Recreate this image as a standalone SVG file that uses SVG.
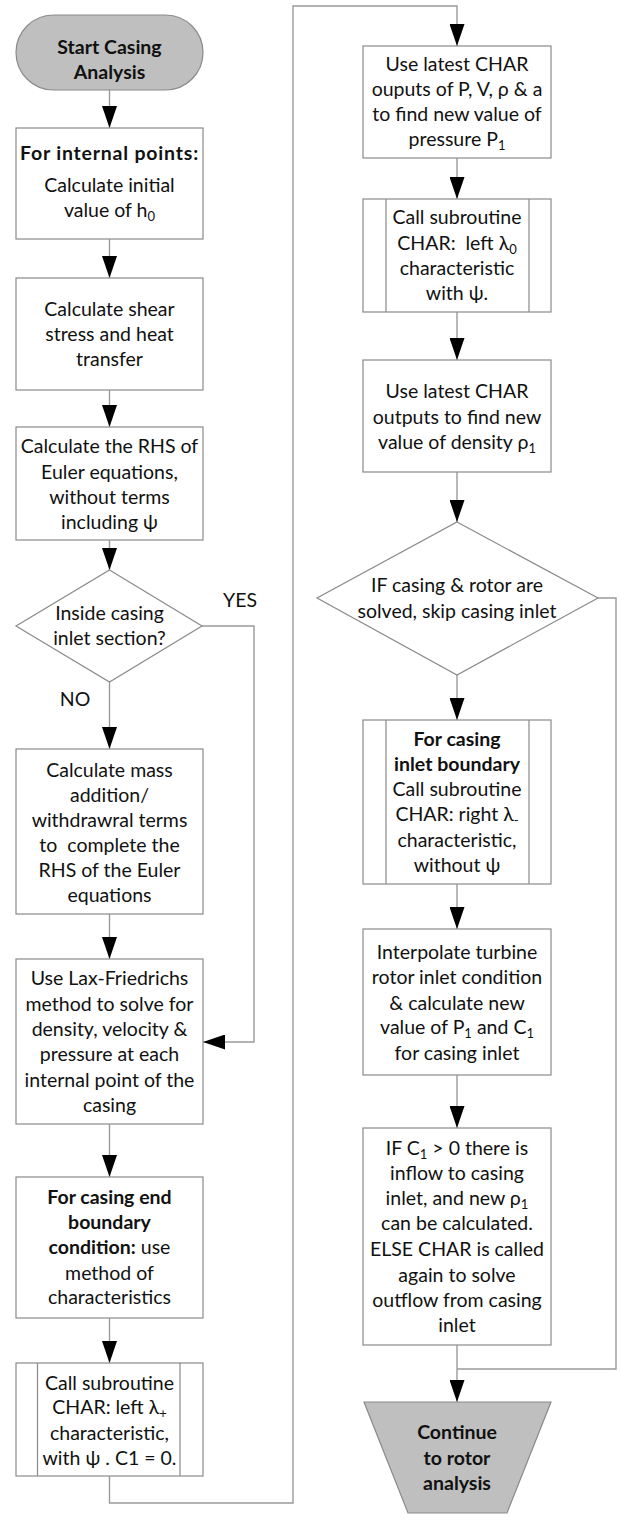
<svg xmlns="http://www.w3.org/2000/svg" width="621" height="1521" viewBox="0 0 621 1521">
<defs>
<style>
.box{fill:#ffffff;stroke:#8a8a8a;stroke-width:1.2}
.term{fill:#bfbfbf;stroke:#8a8a8a;stroke-width:1.2}
.sub{fill:none;stroke:#8a8a8a;stroke-width:1.2}
.con{fill:none;stroke:#9a9a9a;stroke-width:1.4}
text{font-family:Lato,"Open Sans","Liberation Sans",sans-serif;font-size:19.5px;fill:#111111;text-anchor:middle}
.b{font-weight:bold}
.s{font-size:13px}
</style>
<marker id="ah" markerUnits="userSpaceOnUse" viewBox="0 0 22 15" refX="22" refY="7.5" markerWidth="22" markerHeight="15" orient="auto">
<path d="M0,0 L22,7.5 L0,15 z" fill="#000000"/>
</marker>
</defs>
<g id="connectors">
<path class="con" d="M109.5,90 V128" marker-end="url(#ah)"/>
<path class="con" d="M109.5,239 V278" marker-end="url(#ah)"/>
<path class="con" d="M109.5,390 V427" marker-end="url(#ah)"/>
<path class="con" d="M109.5,540 V570" marker-end="url(#ah)"/>
<path class="con" d="M109.5,682 V749" marker-end="url(#ah)"/>
<path class="con" d="M202,626 H254 V1042 H203" marker-end="url(#ah)"/>
<path class="con" d="M109.5,914 V959" marker-end="url(#ah)"/>
<path class="con" d="M109.5,1124 V1177" marker-end="url(#ah)"/>
<path class="con" d="M109.5,1318 V1363" marker-end="url(#ah)"/>
<path class="con" d="M109.5,1476 V1503 H293 V6 H457 V46" marker-end="url(#ah)"/>
<path class="con" d="M457,158 V199" marker-end="url(#ah)"/>
<path class="con" d="M457,312 V360" marker-end="url(#ah)"/>
<path class="con" d="M457,472 V522" marker-end="url(#ah)"/>
<path class="con" d="M457,675 V720" marker-end="url(#ah)"/>
<path class="con" d="M457,884 V929" marker-end="url(#ah)"/>
<path class="con" d="M457,1075 V1128" marker-end="url(#ah)"/>
<path class="con" d="M457,1345 V1402" marker-end="url(#ah)"/>
<path class="con" d="M598,598 H616 V1369 H457"/>
<text x="240" y="607">YES</text>
<text x="75" y="706">NO</text>
</g>
<g id="start">
<rect class="term" x="16" y="15" width="187" height="75" rx="37.5" ry="37.5"/>
<text class="b" x="109.5" y="54">Start Casing</text>
<text class="b" x="109.5" y="79">Analysis</text>
</g>
<g id="internal-points">
<rect class="box" x="16" y="128" width="187" height="111"/>
<text class="b" x="109.5" y="160" letter-spacing="0.8">For internal points:</text>
<text x="109.5" y="192">Calculate initial</text>
<text x="109.5" y="217">value of h<tspan class="s" dy="4">0</tspan></text>
</g>
<g id="shear">
<rect class="box" x="16" y="278" width="187" height="112"/>
<text x="109.5" y="316">Calculate shear</text>
<text x="109.5" y="341">stress and heat</text>
<text x="109.5" y="366">transfer</text>
</g>
<g id="rhs">
<rect class="box" x="16" y="427" width="187" height="113"/>
<text x="109.5" y="453">Calculate the RHS of</text>
<text x="109.5" y="479">Euler equations,</text>
<text x="109.5" y="504">without terms</text>
<text x="109.5" y="529">including ψ</text>
</g>
<g id="inlet-decision">
<polygon class="box" points="109.5,570 202,626 109.5,682 16,626"/>
<text x="109.5" y="620">Inside casing</text>
<text x="109.5" y="645">inlet section?</text>
</g>
<g id="mass-addition">
<rect class="box" x="16" y="749" width="187" height="165"/>
<text x="109.5" y="777">Calculate mass</text>
<text x="109.5" y="802">addition/</text>
<text x="109.5" y="827">withdrawral terms</text>
<text x="109.5" y="852" xml:space="preserve">to  complete the</text>
<text x="109.5" y="877">RHS of the Euler</text>
<text x="109.5" y="902">equations</text>
</g>
<g id="lax-friedrichs">
<rect class="box" x="16" y="959" width="187" height="165"/>
<text x="109.5" y="985">Use Lax-Friedrichs</text>
<text x="109.5" y="1011">method to solve for</text>
<text x="109.5" y="1036">density, velocity &amp;</text>
<text x="109.5" y="1061">pressure at each</text>
<text x="109.5" y="1087">internal point of the</text>
<text x="109.5" y="1112">casing</text>
</g>
<g id="casing-end">
<rect class="box" x="16" y="1177" width="187" height="141"/>
<text class="b" x="109.5" y="1204">For casing end</text>
<text class="b" x="109.5" y="1229">boundary</text>
<text x="109.5" y="1254"><tspan class="b">condition:</tspan> use</text>
<text x="109.5" y="1280">method of</text>
<text x="109.5" y="1304">characteristics</text>
</g>
<g id="char-left-plus">
<rect class="box" x="16" y="1363" width="187" height="113"/>
<path class="sub" d="M37.5,1363 V1476 M180,1363 V1476"/>
<text x="109.5" y="1390">Call subroutine</text>
<text x="109.5" y="1414">CHAR: left λ<tspan class="s" dy="4">+</tspan></text>
<text x="109.5" y="1440">characteristic,</text>
<text x="109.5" y="1465">with ψ . C1 = 0.</text>
</g>
<g id="pressure">
<rect class="box" x="363" y="46" width="188" height="112"/>
<text x="457" y="71">Use latest CHAR</text>
<text x="457" y="96">ouputs of P, V, ρ &amp; a</text>
<text x="457" y="121">to find new value of</text>
<text x="457" y="146">pressure P<tspan class="s" dy="4">1</tspan></text>
</g>
<g id="char-left-zero">
<rect class="box" x="363" y="199" width="188" height="113"/>
<path class="sub" d="M386,199 V312 M529,199 V312"/>
<text x="457" y="224">Call subroutine</text>
<text x="457" y="250" xml:space="preserve">CHAR:  left λ<tspan class="s" dy="4">0</tspan></text>
<text x="457" y="275">characteristic</text>
<text x="457" y="300">with ψ.</text>
</g>
<g id="density">
<rect class="box" x="363" y="360" width="188" height="112"/>
<text x="457" y="398">Use latest CHAR</text>
<text x="457" y="424">outputs to find new</text>
<text x="457" y="449">value of density ρ<tspan class="s" dy="4">1</tspan></text>
</g>
<g id="solved-decision">
<polygon class="box" points="457,522 598,598 457,675 317,598"/>
<text x="457" y="592">IF casing &amp; rotor are</text>
<text x="457" y="618">solved, skip casing inlet</text>
</g>
<g id="char-right-minus">
<rect class="box" x="363" y="720" width="188" height="164"/>
<path class="sub" d="M386,720 V884 M529,720 V884"/>
<text class="b" x="457" y="746">For casing</text>
<text class="b" x="457" y="771">inlet boundary</text>
<text x="457" y="796">Call subroutine</text>
<text x="457" y="821">CHAR: right λ<tspan class="s" dy="4">-</tspan></text>
<text x="457" y="847">characteristic,</text>
<text x="457" y="872">without ψ</text>
</g>
<g id="interpolate">
<rect class="box" x="363" y="929" width="188" height="146"/>
<text x="457" y="959">Interpolate turbine</text>
<text x="457" y="984">rotor inlet condition</text>
<text x="457" y="1010">&amp; calculate new</text>
<text x="457" y="1034">value of P<tspan class="s" dy="4">1</tspan><tspan dy="-4"> and C</tspan><tspan class="s" dy="4">1</tspan></text>
<text x="457" y="1060">for casing inlet</text>
</g>
<g id="inflow">
<rect class="box" x="363" y="1128" width="188" height="217"/>
<text x="457" y="1155">IF C<tspan class="s" dy="4">1</tspan><tspan dy="-4"> &gt; 0 there is</tspan></text>
<text x="457" y="1180">inflow to casing</text>
<text x="457" y="1205">inlet, and new ρ<tspan class="s" dy="4">1</tspan></text>
<text x="457" y="1230">can be calculated.</text>
<text x="457" y="1256">ELSE CHAR is called</text>
<text x="457" y="1282">again to solve</text>
<text x="457" y="1307">outflow from casing</text>
<text x="457" y="1332">inlet</text>
</g>
<g id="continue">
<polygon class="term" points="364,1402 551,1402 507,1513 408,1513"/>
<text class="b" x="457" y="1439">Continue</text>
<text class="b" x="457" y="1465">to rotor</text>
<text class="b" x="457" y="1490">analysis</text>
</g>
</svg>
